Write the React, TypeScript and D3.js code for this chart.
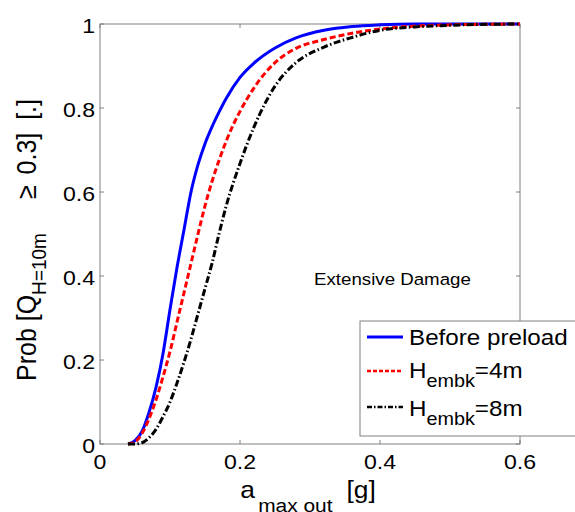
import React from "react";
import * as d3 from "d3";

const aMax = [0.04, 0.05, 0.06, 0.07, 0.08, 0.09, 0.10, 0.11, 0.12, 0.13, 0.14, 0.15, 0.16, 0.17, 0.18, 0.20, 0.22, 0.25, 0.28, 0.32, 0.36, 0.40, 0.45, 0.50, 0.60];
const probBefore = [0, 0.008, 0.03, 0.075, 0.135, 0.215, 0.32, 0.42, 0.51, 0.6, 0.665, 0.715, 0.755, 0.79, 0.822, 0.873, 0.907, 0.943, 0.967, 0.985, 0.994, 0.998, 1, 1, 1];
const probH4 = [0, 0.005, 0.025, 0.06, 0.105, 0.16, 0.22, 0.29, 0.36, 0.43, 0.5, 0.567, 0.625, 0.675, 0.72, 0.792, 0.848, 0.908, 0.942, 0.963, 0.978, 0.988, 0.995, 0.998, 1];
const probH8 = [0, 0, 0.003, 0.015, 0.035, 0.065, 0.1, 0.145, 0.195, 0.25, 0.31, 0.37, 0.43, 0.5, 0.565, 0.668, 0.755, 0.852, 0.908, 0.945, 0.968, 0.985, 0.993, 0.997, 1];

const xTicks = [0, 0.2, 0.4, 0.6];
const xTickLabels = ["0", "0.2", "0.4", "0.6"];
const yTicks = [0, 0.2, 0.4, 0.6, 0.8, 1];
const yTickLabels = ["0", "0.2", "0.4", "0.6", "0.8", "1"];

const seriesNames = ["Before preload", "H", "H"];
const seriesSubs = ["", "embk", "embk"];
const seriesTails = ["", "=4m", "=8m"];
const seriesColors = ["#0000ff", "#ff0000", "#000000"];
const seriesDash = ["none", "6,3", "7,2.5,1.5,2.5"];
const seriesValues = [probBefore, probH4, probH8];

const W = 575, H = 512;
const L = 100, R = 520, T = 24, B = 444;
const SX = 1.1;
const FONT = "'Liberation Sans', Arial, Helvetica, sans-serif";
const AX = "#808080";

export default function App() {
  const x = d3.scaleLinear().domain([0, 0.6]).range([L, R]);
  const y = d3.scaleLinear().domain([0, 1]).range([B, T]);
  const line = (vals: number[]) =>
    d3.line<number>()
      .x((_, i) => x(aMax[i]))
      .y((v) => y(v))
      .curve(d3.curveMonotoneX)(vals) as string;

  const tr = (px: number, py: number, extra = "") => `translate(${px},${py}) scale(${SX},1)${extra}`;

  const legX = 360, legY = 321, legW = 216, legH = 115;
  const rowLineY = [337, 371, 407];
  const rowTextY = [345, 378, 416];

  return (
    <svg width={W} height={H} style={{ position: "absolute", left: 0, top: 0, background: "#fff" }} fontFamily={FONT}>
      <rect x={0} y={0} width={W} height={H} fill="#fff" />
      {/* axes box */}
      <rect x={L} y={T} width={R - L} height={B - T} fill="none" stroke={AX} strokeWidth={1} />
      {xTicks.map((t, i) => (
        <g key={"xt" + i}>
          <line x1={x(t)} x2={x(t)} y1={B} y2={B - 4} stroke={AX} />
          <line x1={x(t)} x2={x(t)} y1={T} y2={T + 4} stroke={AX} />
          <text transform={tr(x(t), B + 25)} textAnchor="middle" fontSize={21} fill="#000">{xTickLabels[i]}</text>
        </g>
      ))}
      {yTicks.map((t, i) => (
        <g key={"yt" + i}>
          <line x1={L} x2={L + 4} y1={y(t)} y2={y(t)} stroke={AX} />
          <line x1={R} x2={R - 4} y1={y(t)} y2={y(t)} stroke={AX} />
          <text transform={tr(L - 5, y(t) + 8.5)} textAnchor="end" fontSize={21} fill="#000">{yTickLabels[i]}</text>
        </g>
      ))}
      {/* curves */}
      {seriesValues.map((vals, i) => (
        <path key={"s" + i} d={line(vals)} fill="none" stroke={seriesColors[i]} strokeWidth={3}
          strokeDasharray={seriesDash[i]} strokeLinejoin="round" />
      ))}
      {/* annotation */}
      <text transform={tr(314, 285)} fontSize={17} fill="#000">Extensive Damage</text>
      {/* legend */}
      <rect x={legX} y={legY} width={legW} height={legH} fill="#fff" stroke={AX} strokeWidth={1} />
      {seriesNames.map((n, i) => (
        <g key={"lg" + i}>
          <line x1={367} x2={403} y1={rowLineY[i]} y2={rowLineY[i]} stroke={seriesColors[i]} strokeWidth={i === 0 ? 3 : 2.5}
            strokeDasharray={seriesDash[i] === "none" ? undefined : i === 1 ? "4,2" : "5,2,1.5,2"} />
          <text transform={tr(409, rowTextY[i])} fontSize={22} fill="#000">
            {n}
            {seriesSubs[i] && <tspan fontSize={18} dy={9}>{seriesSubs[i]}</tspan>}
            {seriesTails[i] && <tspan dy={-9}>{seriesTails[i]}</tspan>}
          </text>
        </g>
      ))}
      {/* y title */}
      <text transform={tr(36, 381, " rotate(-90)")} textAnchor="start" fontSize={25} fill="#000">
        Prob [Q<tspan fontSize={19} dy={9}>H=10m</tspan><tspan dx={34} dy={-9}>≥</tspan><tspan dx={4}> 0.3]</tspan><tspan dx={6}> [.]</tspan>
      </text>
      {/* x title */}
      <text transform={tr((L + R) / 2 - 2, 498)} textAnchor="middle" fontSize={24} fill="#000">
        a<tspan fontSize={19} dx={3} dy={14}>max out</tspan><tspan dx={6} dy={-14}> [g]</tspan>
      </text>
    </svg>
  );
}
